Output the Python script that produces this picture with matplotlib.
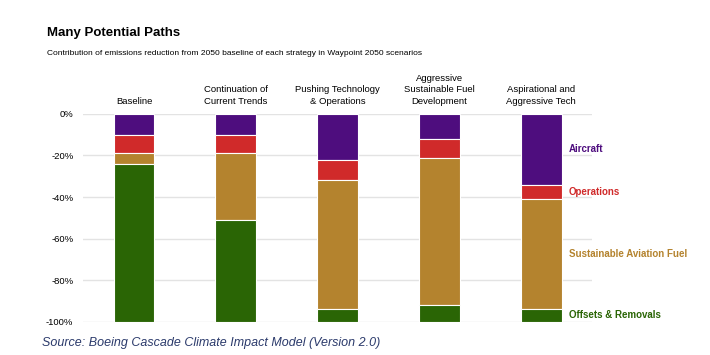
import matplotlib.pyplot as plt
import numpy as np

# scenarios and contribution of each strategy (% of 2050 baseline emissions)
scenarios = [
    "Baseline",
    "Continuation of\nCurrent Trends",
    "Pushing Technology\n& Operations",
    "Aggressive\nSustainable Fuel\nDevelopment",
    "Aspirational and\nAggressive Tech",
]
strategies = ["Aircraft", "Operations", "Sustainable Aviation Fuel", "Offsets & Removals"]
aircraft = [10, 10, 22, 12, 34]
operations = [9, 9, 10, 9, 7]
saf = [5, 32, 62, 71, 53]
offsets = [76, 49, 6, 8, 6]
colors = ["#4e0d7e", "#d02a2a", "#b4832e", "#2a6505"]
yticks = [0, -20, -40, -60, -80, -100]

plt.rcParams["font.family"] = ["Liberation Sans", "DejaVu Sans"]

fig = plt.figure(figsize=(7.1, 3.55), dpi=100)
ax = fig.add_axes([0.117, 0.094, 0.717, 0.585])

x = np.arange(len(scenarios))
series = [aircraft, operations, saf, offsets]
bottom = np.zeros(len(scenarios))
for vals, col in zip(series, colors):
    vals = -np.array(vals, dtype=float)
    ax.bar(x, vals, 0.4, bottom=bottom, color=col, edgecolor="white", linewidth=0.8, zorder=3)
    bottom = bottom + vals

# strategy labels next to the last bar, at the middle of each segment
last = -np.cumsum([s[-1] for s in series])
prev = np.concatenate([[0], last[:-1]])
for name, col, a, b in zip(strategies, colors, prev, last):
    ax.text(x[-1] + 0.27, (a + b) / 2, name, color=col, fontsize=7, fontweight="bold",
            va="center", ha="left", clip_on=False)

# scenario names on top
for xi, name in zip(x, scenarios):
    ax.text(xi, 4, name, ha="center", va="bottom", fontsize=6.8, linespacing=1.35)

ax.set_xlim(-0.5, 4.5)
ax.set_ylim(-100, 0)
ax.set_yticks(yticks)
ax.set_yticklabels([f"{t}%" for t in yticks], fontsize=6.8)
ax.set_xticks([])
ax.tick_params(axis="y", length=0, pad=7)
ax.grid(axis="y", color="#e3e3e3", linewidth=1, zorder=0)
for s in ax.spines.values():
    s.set_visible(False)

fig.text(0.066, 0.907, "Many Potential Paths", fontsize=9.5, fontweight="bold", va="center")
fig.text(0.066, 0.848, "Contribution of emissions reduction from 2050 baseline of each strategy in Waypoint 2050 scenarios",
         fontsize=6, va="center")
fig.text(0.059, 0.034, "Source: Boeing Cascade Climate Impact Model (Version 2.0)", fontsize=9,
         style="italic", color="#2b3a6b", va="center")

fig.savefig("out.png", dpi=100)
